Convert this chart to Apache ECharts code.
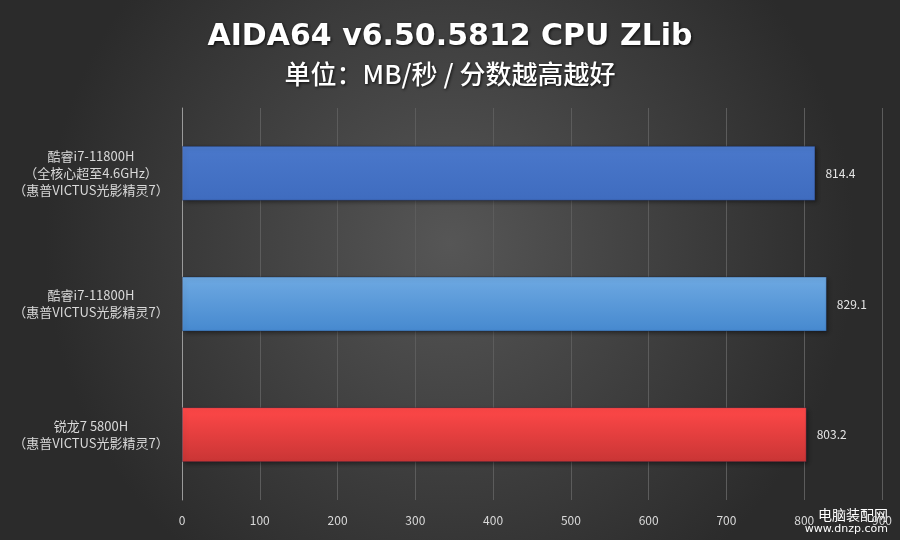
<!DOCTYPE html>
<html><head><meta charset="utf-8">
<script src="https://cdn.jsdelivr.net/npm/echarts@6/dist/echarts.min.js"></script>
<style>html,body{margin:0;padding:0;background:#333}#c{width:900px;height:540px}</style>
</head><body><div id="c"></div>
<script>
const categories = [
  '酷睿i7-11800H\n（全核心超至4.6GHz）\n（惠普VICTUS光影精灵7）',
  '酷睿i7-11800H\n（惠普VICTUS光影精灵7）',
  '锐龙7 5800H\n（惠普VICTUS光影精灵7）'
];
const values = [814.4, 829.1, 803.2];
const xTicks = [0, 100, 200, 300, 400, 500, 600, 700, 800, 900];

const barColors = [
  new echarts.graphic.LinearGradient(0,0,0,1,[{offset:0,color:'#4a78cb'},{offset:1,color:'#3f6cbf'}]),
  new echarts.graphic.LinearGradient(0,0,0,1,[{offset:0,color:'#6ea9e2'},{offset:1,color:'#4689cf'}]),
  new echarts.graphic.LinearGradient(0,0,0,1,[{offset:0,color:'#ff4848'},{offset:1,color:'#c93535'}])
];

const chart = echarts.init(document.getElementById('c'), null, {renderer:'canvas'});
chart.setOption({
  backgroundColor: new echarts.graphic.RadialGradient(0.5,0.45,0.75,[{offset:0,color:'#565656'},{offset:1,color:'#2b2b2b'}]),
  animation:false,
  title:[
    {text:'AIDA64 v6.50.5812 CPU ZLib', left:'center', top:17,
     textStyle:{color:'#ffffff', fontSize:30, fontWeight:'bold', fontFamily:'DejaVu Sans', textShadowColor:'rgba(0,0,0,0.8)', textShadowBlur:3, textShadowOffsetX:1, textShadowOffsetY:1}},
    {text:'单位：MB/秒 / 分数越高越好', left:'center', top:56,
     textStyle:{color:'#ffffff', fontSize:26, fontWeight:500, fontFamily:'Noto Sans CJK SC', textShadowColor:'rgba(0,0,0,0.8)', textShadowBlur:3, textShadowOffsetX:1, textShadowOffsetY:1}}
  ],
  grid:{left:182, right:18, top:108, bottom:40, containLabel:false},
  xAxis:{type:'value', min:0, max:900, interval:100,
    axisLine:{show:false}, axisTick:{show:false},
    splitLine:{lineStyle:{color:'#5c5c5c', width:1}},
    axisLabel:{color:'#d9d9d9', fontSize:12, margin:14, fontFamily:'Noto Sans CJK SC',
      formatter:function(v){return xTicks.indexOf(v)>=0?String(v):'';}}},
  yAxis:{type:'category', data:categories, inverse:true,
    axisLine:{lineStyle:{color:'#9a9a9a', width:1}}, axisTick:{show:false},
    axisLabel:{color:'#d9d9d9', fontSize:13, lineHeight:17, margin:91, align:'center', fontFamily:'Noto Sans CJK SC'}},
  series:[{type:'bar', barWidth:55,
    data: values.map((v,i)=>({value:v, itemStyle:{color:barColors[i], borderColor:'rgba(20,30,60,0.35)', borderWidth:1, shadowColor:'rgba(0,0,0,0.4)', shadowBlur:4, shadowOffsetX:2, shadowOffsetY:2}})),
    label:{show:true, position:'right', distance:10, color:'#e6e6e6', fontSize:12, fontFamily:'Noto Sans CJK SC'}
  }],
  graphic:[
    {type:'text', right:12, bottom:18, style:{text:'电脑装配网', fill:'#ffffff', font:'14px "Noto Sans CJK SC"'}},
    {type:'text', right:12, bottom:5, style:{text:'www.dnzp.com', fill:'#ffffff', font:'11px "DejaVu Sans"'}}
  ]
});
</script></body></html>
